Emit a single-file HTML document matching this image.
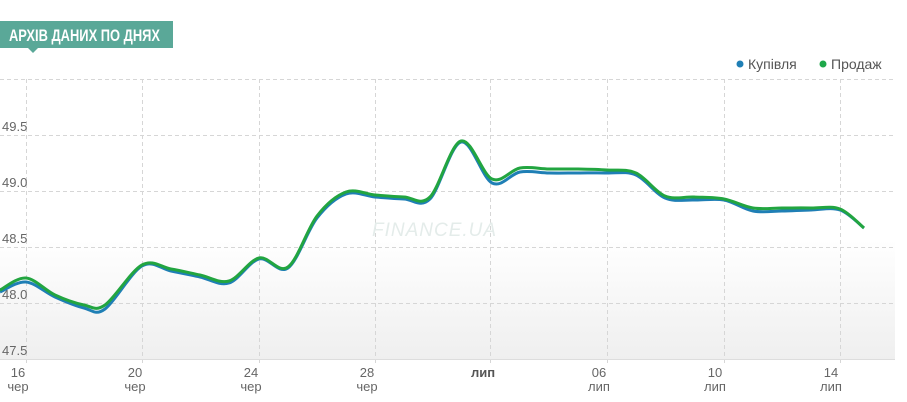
<!DOCTYPE html>
<html><head><meta charset="utf-8"><style>
body{margin:0;background:#fff;width:907px;height:402px;overflow:hidden;font-family:"Liberation Sans",sans-serif}
</style></head><body>
<svg width="907" height="402" xmlns="http://www.w3.org/2000/svg" style="position:absolute;left:0;top:0">
<defs><linearGradient id="g" x1="0" y1="0" x2="0" y2="1"><stop offset="0" stop-color="#fff"/><stop offset="1" stop-color="#efefef"/></linearGradient></defs>
<rect x="0" y="240" width="895" height="119" fill="url(#g)"/>
<rect x="0" y="21" width="173" height="27" fill="#5aa898"/>
<polygon points="28,48 38,48 33,53" fill="#5aa898"/>
<text x="9" y="41" font-family="Liberation Sans Narrow,Liberation Sans,sans-serif" font-size="17" font-weight="bold" fill="#fff" textLength="151" lengthAdjust="spacingAndGlyphs">АРХІВ ДАНИХ ПО ДНЯХ</text>
<g stroke="#d6d6d6" stroke-dasharray="4,3" stroke-width="1">
<line x1="0" y1="79.5" x2="895" y2="79.5"/><line x1="0" y1="135.5" x2="895" y2="135.5"/><line x1="0" y1="191.5" x2="895" y2="191.5"/><line x1="0" y1="247.5" x2="895" y2="247.5"/><line x1="0" y1="303.5" x2="895" y2="303.5"/>
<line x1="26.5" y1="79" x2="26.5" y2="366"/><line x1="142.5" y1="79" x2="142.5" y2="366"/><line x1="259.5" y1="79" x2="259.5" y2="366"/><line x1="375.5" y1="79" x2="375.5" y2="366"/><line x1="490.5" y1="79" x2="490.5" y2="366"/><line x1="607.5" y1="79" x2="607.5" y2="366"/><line x1="724.5" y1="79" x2="724.5" y2="366"/><line x1="840.5" y1="79" x2="840.5" y2="366"/>
</g>
<line x1="0" y1="359.5" x2="895" y2="359.5" stroke="#ddd"/>
<g font-size="13" fill="#666">
<text x="2" y="131">49.5</text><text x="2" y="187">49.0</text><text x="2" y="243">48.5</text><text x="2" y="299">48.0</text><text x="2" y="355">47.5</text>
</g>
<g font-size="13" fill="#666" text-anchor="middle">
<text x="18" y="377">16</text><text x="18" y="391">чер</text>
<text x="135" y="377">20</text><text x="135" y="391">чер</text>
<text x="251" y="377">24</text><text x="251" y="391">чер</text>
<text x="367" y="377">28</text><text x="367" y="391">чер</text>
<text x="483" y="377" font-weight="bold" fill="#555">лип</text>
<text x="599" y="377">06</text><text x="599" y="391">лип</text>
<text x="715" y="377">10</text><text x="715" y="391">лип</text>
<text x="831" y="377">14</text><text x="831" y="391">лип</text>
</g>
<text x="372" y="236" font-size="19" font-style="italic" fill="#e4ecea" letter-spacing="1">FINANCE.UA</text>
<circle cx="740" cy="64" r="3.5" fill="#1f7fb5"/><text x="748" y="69" font-size="14" fill="#555">Купівля</text>
<circle cx="823" cy="64" r="3.5" fill="#1ea84a"/><text x="831" y="69" font-size="14" fill="#555">Продаж</text>
<path id="b" fill="none" stroke="#1f7fb5" stroke-width="3"/>
<path id="s" fill="none" stroke="#22a540" stroke-width="3"/>
</svg>
<script>
function cr(p){let d="M"+p[0][0]+","+p[0][1];for(let i=0;i<p.length-1;i++){const a=p[i-1]||p[i],b=p[i],c=p[i+1],e=p[i+2]||c;d+=" C"+(b[0]+(c[0]-a[0])/6)+","+(b[1]+(c[1]-a[1])/6)+" "+(c[0]-(e[0]-b[0])/6)+","+(c[1]-(e[1]-b[1])/6)+" "+c[0]+","+c[1];}return d;}
const buy=[[0,292],[26,282],[55,297],[84,308],[105,309],[142,266],[171,271],[200,277],[229,283],[259,259],[288,268],[317,218],[346,194],[375,197],[404,199],[430,199],[461,142],[492,183],[520,172],[549,173],[578,173],[607,173],[636,175],[665,198],[694,200],[724,200],[753,211],[782,211],[811,210],[840,210],[864,228]];
const sell=[[0,290],[26,278],[55,295],[84,305],[105,305],[142,265],[171,269],[200,275],[229,281],[259,258],[288,267],[317,216],[346,192],[375,195],[404,197],[430,197],[461,141],[492,179],[520,168],[549,169],[578,169],[607,170],[636,173],[665,196],[694,197],[724,199],[753,208],[782,208],[811,208],[840,209],[864,228]];
document.getElementById("b").setAttribute("d",cr(buy));
document.getElementById("s").setAttribute("d",cr(sell));
</script>
</body></html>
